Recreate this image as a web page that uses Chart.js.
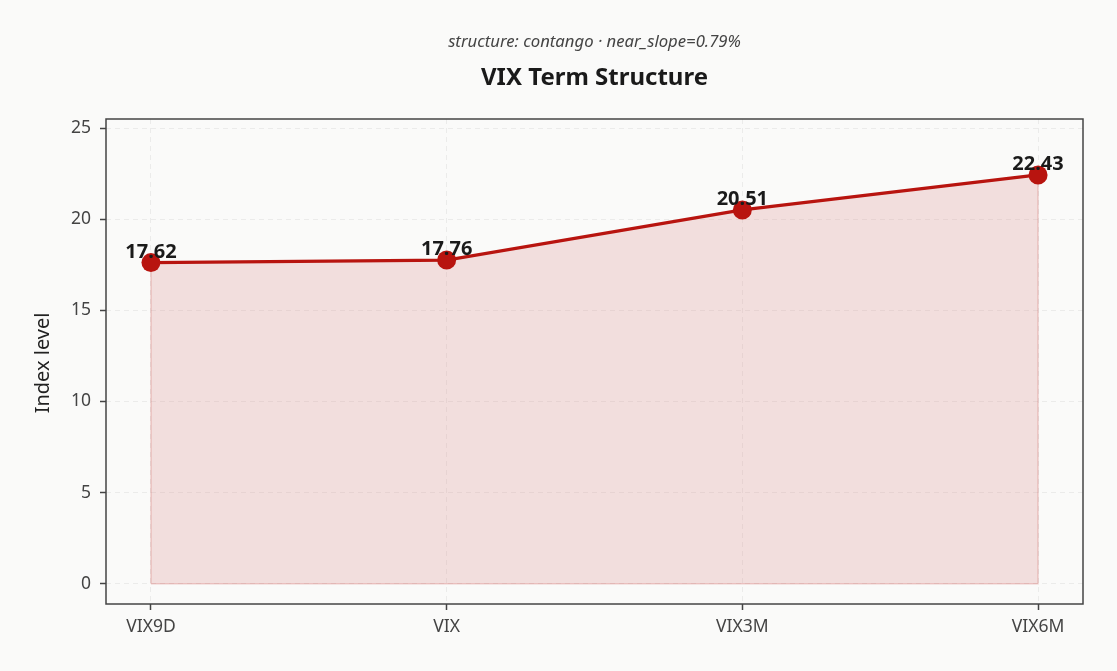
<!DOCTYPE html>
<html>
<head>
<meta charset="utf-8">
<script src="https://cdn.jsdelivr.net/npm/chart.js@4.4.1/dist/chart.umd.min.js"></script>
<style>
    html, body { margin: 0; padding: 0; background: #fafaf9; }
    #wrap { width: 1117px; height: 671px; }
</style>
</head>
<body>
<div id="wrap"><canvas id="termChart" width="1117" height="671"></canvas></div>
<script>
// Term structure values
const tenors = ['VIX9D', 'VIX', 'VIX3M', 'VIX6M'];
const levels = [17.62, 17.76, 20.51, 22.43];
const yTicks = [0, 5, 10, 15, 20, 25];

const titleText = 'VIX Term Structure';
const subtitleText = 'structure: contango \u00b7 near_slope=0.79%';
const yTitleText = 'Index level';

const lineColor = '#b8140f';
const fontFamily = '"Noto Sans", "Open Sans", sans-serif';

// Outline of the filled area (edge of the shaded region)
const outline = [{ x: 0, y: 0 }]
    .concat(levels.map((v, i) => ({ x: i, y: v })))
    .concat([{ x: levels.length - 1, y: 0 }, { x: 0, y: 0 }]);

// Draws titles, the frame and the value labels
const decorPlugin = {
    id: 'decor',
    afterDraw(chart) {
        const ctx = chart.ctx;
        const area = chart.chartArea;
        const cx = (area.left + area.right) / 2;
        ctx.save();

        // frame around plot area
        ctx.strokeStyle = '#444';
        ctx.lineWidth = 1.5;
        ctx.strokeRect(area.left, area.top, area.right - area.left, area.bottom - area.top);

        ctx.textAlign = 'center';
        ctx.textBaseline = 'alphabetic';
        ctx.fillStyle = '#444';
        ctx.font = 'italic 16.7px ' + fontFamily;
        ctx.fillText(subtitleText, cx, 47);

        ctx.fillStyle = '#1a1a1a';
        ctx.font = 'bold 24px ' + fontFamily;
        ctx.fillText(titleText, cx, 85);

        // y axis title
        ctx.save();
        ctx.translate(43, 363);
        ctx.rotate(-Math.PI / 2);
        ctx.textBaseline = 'middle';
        ctx.fillStyle = '#222';
        ctx.font = '20px ' + fontFamily;
        ctx.fillText(yTitleText, 0, 0);
        ctx.restore();

        // value labels
        const meta = chart.getDatasetMeta(1);
        ctx.fillStyle = '#1a1a1a';
        ctx.font = 'bold 20px ' + fontFamily;
        meta.data.forEach((pt, i) => {
            ctx.fillText(levels[i].toFixed(2), pt.x, pt.y - 5);
        });
        ctx.restore();
    }
};

new Chart(document.getElementById('termChart'), {
    type: 'line',
    data: {
        datasets: [{
            data: outline,
            borderColor: 'rgba(200, 60, 55, 0.22)',
            borderWidth: 1.5,
            fill: false,
            pointRadius: 0,
            tension: 0,
            order: 2
        }, {
            data: levels.map((v, i) => ({ x: i, y: v })),
            borderColor: lineColor,
            borderWidth: 3.3,
            backgroundColor: 'rgba(200, 60, 55, 0.14)',
            fill: { value: 0 },
            tension: 0,
            pointRadius: 9.5,
            pointBackgroundColor: lineColor,
            pointBorderColor: lineColor,
            pointBorderWidth: 0,
            pointHoverRadius: 9.5,
            order: 1
        }]
    },
    options: {
        responsive: false,
        animation: false,
        devicePixelRatio: 1,
        layout: { padding: { top: 119, right: 34, left: 0, bottom: 0 } },
        plugins: {
            legend: { display: false },
            tooltip: { enabled: false },
            title: { display: false }
        },
        scales: {
            x: {
                type: 'linear',
                min: -0.152,
                max: 3.152,
                afterBuildTicks: (scale) => {
                    scale.ticks = tenors.map((_, i) => ({ value: i }));
                },
                afterFit: (scale) => { scale.height = 67; },
                ticks: {
                    callback: (value) => tenors[value],
                    color: '#444',
                    font: { family: fontFamily, size: 17.5 },
                    padding: 7,
                    maxRotation: 0
                },
                grid: {
                    color: 'rgba(0, 0, 0, 0.06)',
                    tickColor: '#444',
                    tickLength: 6,
                    tickWidth: 1.5
                },
                border: { display: false, dash: [5, 4] }
            },
            y: {
                min: -1.11,
                max: 25.5,
                afterBuildTicks: (scale) => {
                    scale.ticks = yTicks.map((v) => ({ value: v }));
                },
                afterFit: (scale) => { scale.width = 106; },
                ticks: {
                    color: '#444',
                    font: { family: fontFamily, size: 17.5 },
                    padding: 9
                },
                grid: {
                    color: 'rgba(0, 0, 0, 0.06)',
                    tickColor: '#444',
                    tickLength: 6,
                    tickWidth: 1.5
                },
                border: { display: false, dash: [5, 4] }
            }
        }
    },
    plugins: [decorPlugin]
});
</script>
</body>
</html>
